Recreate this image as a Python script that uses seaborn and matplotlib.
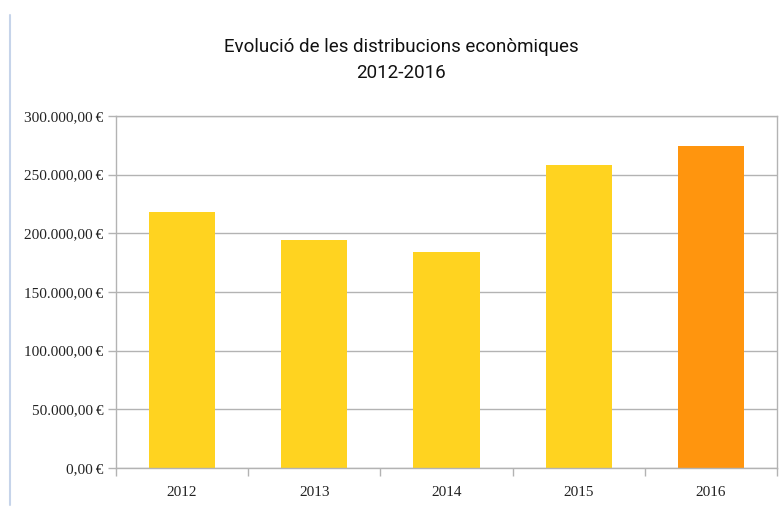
import matplotlib
matplotlib.use("Agg")
import matplotlib.pyplot as plt
import matplotlib.ticker as mticker
from matplotlib.lines import Line2D
import seaborn as sns
import pandas as pd

years = ["2012", "2013", "2014", "2015", "2016"]
values = [218000, 194500, 184000, 258500, 274500]
colors = ["#FFD320", "#FFD320", "#FFD320", "#FFD320", "#FF950E"]
title_lines = ["Evolució de les distribucions econòmiques", "2012-2016"]
y_ticks = [0, 50000, 100000, 150000, 200000, 250000, 300000]

sns.set_theme(style="white")
df = pd.DataFrame({"year": years, "value": values})

fig = plt.figure(figsize=(7.82, 5.07), dpi=100)
ax = fig.add_axes([116/782, 39/507, 661/782, 352/507])

sns.barplot(data=df, x="year", y="value", hue="year", palette=colors,
            width=0.5, saturation=1, legend=False, ax=ax, edgecolor="none")

grid_c = "#b3b3b3"
ax.set_ylim(0, 300000)
ax.set_xlim(-0.5, 4.5)
ax.set_yticks(y_ticks)
ax.yaxis.set_major_formatter(mticker.FuncFormatter(
    lambda v, p: f"{int(v):,}".replace(",", ".") + ",00\u2009€"))
ax.yaxis.grid(True, color=grid_c, linewidth=1)
ax.set_axisbelow(True)
for s in ax.spines.values():
    s.set_color(grid_c)
    s.set_linewidth(1)
    s.set_visible(True)
ax.set_xlabel("")
ax.set_ylabel("")

ax.tick_params(axis="y", which="major", direction="out", length=6, width=1,
               color=grid_c, left=True, pad=3, labelsize=11)
ax.tick_params(axis="x", which="major", length=0, pad=13, labelsize=11)
ax.set_xticks([-0.5, 0.5, 1.5, 2.5, 3.5, 4.5], minor=True)
ax.tick_params(axis="x", which="minor", direction="out", length=6, width=1,
               color=grid_c, bottom=True)
for lab in ax.get_xticklabels() + ax.get_yticklabels():
    lab.set_family("Liberation Serif")
    lab.set_color("#222222")

fig.text(401/782, 1 - 47/507, title_lines[0], ha="center", va="center",
         fontsize=13.5, family="Roboto", color="#111111")
fig.text(401/782, 1 - 73/507, title_lines[1], ha="center", va="center",
         fontsize=13.5, family="Roboto", color="#111111")

fig.add_artist(Line2D([10/782, 10/782], [1 - 15/507, 1 - 505/507],
                      transform=fig.transFigure, color="#c6d4ea", linewidth=1.5))

fig.savefig("out.png", dpi=100)
